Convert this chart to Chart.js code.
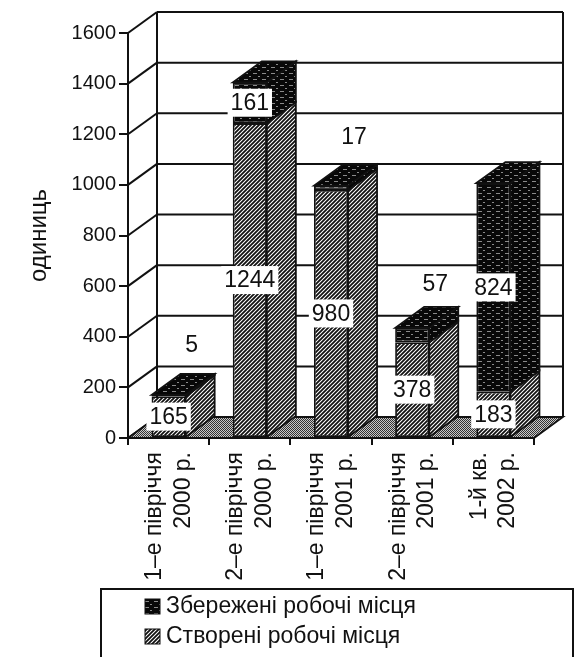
<!DOCTYPE html>
<html lang="uk">
<head>
<meta charset="utf-8">
<title>Створені та збережені робочі місця</title>
<script src="https://cdn.jsdelivr.net/npm/chart.js@4.4.1/dist/chart.umd.min.js"></script>
<style>
  html, body { margin: 0; padding: 0; background: #fff; }
</style>
</head>
<body>
<canvas id="chart" width="576" height="657"></canvas>
<script>
// ---------------------------------------------
// Data
// ---------------------------------------------
const categories = [
  ['1–е півріччя', '2000 р.'],
  ['2–е півріччя', '2000 р.'],
  ['1–е півріччя', '2001 р.'],
  ['2–е півріччя', '2001 р.'],
  ['1-й кв.', '2002 р.']
];
const createdJobs = [165, 1244, 980, 378, 183];
const savedJobs = [5, 161, 17, 57, 824];
const yMin = 0;
const yMax = 1600;
const yStep = 200;
const yTitle = 'одиниць';
const createdLabel = 'Створені робочі місця';
const savedLabel = 'Збережені робочі місця';

// ---------------------------------------------
// Look
// ---------------------------------------------
const FONT = "'Liberation Sans', Arial, sans-serif";
const INK = '#111';
const DEPTH = { dx: 29, dy: -21 };

const canvas = document.getElementById('chart');
const ctx0 = canvas.getContext('2d');

// diagonal hatching "////"
function hatchPattern() {
  const c = document.createElement('canvas');
  c.width = 4; c.height = 4;
  const g = c.getContext('2d');
  g.fillStyle = '#fff';
  g.fillRect(0, 0, 4, 4);
  g.strokeStyle = '#111';
  g.lineWidth = 1.8;
  g.beginPath();
  g.moveTo(-1, 5); g.lineTo(5, -1);
  g.moveTo(-1, 1); g.lineTo(1, -1);
  g.moveTo(3, 5); g.lineTo(5, 3);
  g.stroke();
  return ctx0.createPattern(c, 'repeat');
}

// nearly black with light horizontal streaks
function darkPattern() {
  const c = document.createElement('canvas');
  c.width = 9; c.height = 6;
  const g = c.getContext('2d');
  g.fillStyle = '#080808';
  g.fillRect(0, 0, 9, 6);
  g.fillStyle = '#8a8a8a';
  g.fillRect(1, 1, 4, 1);
  g.fillRect(6, 4, 2, 1);
  return ctx0.createPattern(c, 'repeat');
}

// grey stipple for the floor
function stipplePattern() {
  const c = document.createElement('canvas');
  c.width = 2; c.height = 2;
  const g = c.getContext('2d');
  g.fillStyle = '#c8c8c8';
  g.fillRect(0, 0, 2, 2);
  g.fillStyle = '#333';
  g.fillRect(0, 0, 1, 1);
  g.fillRect(1, 1, 1, 1);
  return ctx0.createPattern(c, 'repeat');
}

const hatch = hatchPattern();
const dark = darkPattern();
const stipple = stipplePattern();

function line(ctx, x1, y1, x2, y2) {
  ctx.beginPath();
  ctx.moveTo(x1, y1);
  ctx.lineTo(x2, y2);
  ctx.stroke();
}

function poly(ctx, pts, fill) {
  ctx.beginPath();
  ctx.moveTo(pts[0][0], pts[0][1]);
  for (let i = 1; i < pts.length; i++) ctx.lineTo(pts[i][0], pts[i][1]);
  ctx.closePath();
  ctx.fillStyle = fill;
  ctx.fill();
  ctx.stroke();
}

// walls + floor behind the bars
const wallsPlugin = {
  id: 'walls',
  beforeDatasetsDraw(chart) {
    const { ctx, chartArea: a, scales: { y } } = chart;
    const { dx, dy } = DEPTH;
    const y0 = y.getPixelForValue(yMin);
    const yTop = y.getPixelForValue(yMax);
    ctx.save();
    ctx.strokeStyle = INK;
    ctx.lineWidth = 2;
    y.ticks.forEach(t => {
      const py = y.getPixelForValue(t.value);
      line(ctx, a.left, py, a.left + dx, py + dy);
      line(ctx, a.left + dx, py + dy, a.right + dx, py + dy);
    });
    line(ctx, a.left + dx, yTop + dy, a.left + dx, y0 + dy);
    line(ctx, a.right + dx, yTop + dy, a.right + dx, y0 + dy);
    ctx.lineWidth = 1.8;
    poly(ctx, [[a.left, y0], [a.right, y0], [a.right + dx, y0 + dy], [a.left + dx, y0 + dy]], stipple);
    ctx.restore();
  }
};

// side and top faces of the columns, then value labels
const columnsPlugin = {
  id: 'columns',
  afterDatasetsDraw(chart) {
    const { ctx } = chart;
    const { dx, dy } = DEPTH;
    const last = chart.data.datasets.length - 1;
    ctx.save();
    ctx.strokeStyle = INK;
    ctx.lineWidth = 1.8;
    chart.data.datasets.forEach((ds, di) => {
      chart.getDatasetMeta(di).data.forEach(bar => {
        const { x, y, base, width } = bar.getProps(['x', 'y', 'base', 'width'], true);
        const l = x - width / 2;
        const r = x + width / 2;
        poly(ctx, [[r, y], [r + dx, y + dy], [r + dx, base + dy], [r, base]], ds.backgroundColor);
        if (di === last) {
          poly(ctx, [[l, y], [l + dx, y + dy], [r + dx, y + dy], [r, y]], ds.backgroundColor);
        }
      });
    });

    // labels
    ctx.font = '23px ' + FONT;
    ctx.textAlign = 'center';
    ctx.textBaseline = 'middle';
    chart.data.datasets.forEach((ds, di) => {
      chart.getDatasetMeta(di).data.forEach((bar, i) => {
        const { x, y, base } = bar.getProps(['x', 'y', 'base'], true);
        const text = String(ds.data[i]);
        let lx = x;
        let ly = (y + base) / 2;
        let boxed = true;
        if (Math.abs(base - y) < 25) {
          lx += 23;
          ly -= 51;
          boxed = false;
        }
        const w = ctx.measureText(text).width;
        if (boxed) {
          ctx.fillStyle = '#fff';
          ctx.fillRect(lx - w / 2 - 3, ly - 14, w + 6, 28);
        }
        ctx.fillStyle = INK;
        ctx.fillText(text, lx, ly + 1);
      });
    });
    ctx.restore();
  }
};

// boxed legend, one item per row
const legendPlugin = {
  id: 'boxLegend',
  afterDraw(chart) {
    const { ctx } = chart;
    const items = chart.data.datasets.slice().reverse();
    ctx.save();
    ctx.strokeStyle = INK;
    ctx.lineWidth = 2;
    ctx.beginPath();
    ctx.moveTo(101, 660);
    ctx.lineTo(101, 589);
    ctx.lineTo(573, 589);
    ctx.lineTo(573, 660);
    ctx.stroke();
    ctx.font = '23px ' + FONT;
    ctx.textAlign = 'left';
    ctx.textBaseline = 'middle';
    items.forEach((ds, i) => {
      const cy = 606 + i * 30;
      ctx.fillStyle = ds.backgroundColor;
      ctx.lineWidth = 1;
      ctx.fillRect(145, cy - 7, 15, 15);
      ctx.strokeRect(145, cy - 7, 15, 15);
      ctx.fillStyle = INK;
      ctx.fillText(ds.label, 166, cy + 1);
    });
    ctx.restore();
  }
};

new Chart(canvas, {
  type: 'bar',
  data: {
    labels: categories,
    datasets: [
      {
        label: createdLabel,
        data: createdJobs,
        backgroundColor: hatch,
        borderColor: INK,
        borderWidth: 1.8,
        borderSkipped: false,
        barPercentage: 0.7,
        categoryPercentage: 0.6
      },
      {
        label: savedLabel,
        data: savedJobs,
        backgroundColor: dark,
        borderColor: INK,
        borderWidth: 1.8,
        borderSkipped: false,
        barPercentage: 0.7,
        categoryPercentage: 0.6
      }
    ]
  },
  options: {
    responsive: false,
    animation: false,
    layout: { padding: { top: 33, right: 42, bottom: 69, left: 0 } },
    plugins: {
      legend: { display: false },
      tooltip: { enabled: false }
    },
    scales: {
      x: {
        stacked: true,
        afterFit(scale) { scale.height = 150; },
        grid: {
          drawOnChartArea: false,
          drawTicks: true,
          tickLength: 7,
          color: INK,
          lineWidth: 2
        },
        border: { display: true, color: INK, width: 2 },
        ticks: {
          autoSkip: false,
          minRotation: 90,
          maxRotation: 90,
          padding: 7,
          labelOffset: -14,
          color: INK,
          font: { family: FONT, size: 23, lineHeight: 1.25 }
        }
      },
      y: {
        stacked: true,
        min: yMin,
        max: yMax,
        afterFit(scale) { scale.width = 128; },
        grid: {
          drawOnChartArea: false,
          drawTicks: true,
          tickLength: 9,
          color: INK,
          lineWidth: 2
        },
        border: { display: true, color: INK, width: 2 },
        ticks: {
          stepSize: yStep,
          padding: 3,
          color: INK,
          font: { family: FONT, size: 20 },
          callback: value => String(value)
        },
        title: {
          display: true,
          text: yTitle,
          color: INK,
          padding: { top: 25, bottom: 0 },
          font: { family: FONT, size: 24 }
        }
      }
    }
  },
  plugins: [wallsPlugin, columnsPlugin, legendPlugin]
});
</script>
</body>
</html>
